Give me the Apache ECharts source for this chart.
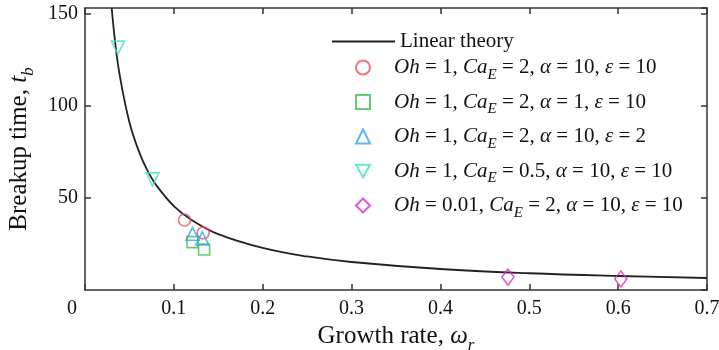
<!DOCTYPE html>
<html>
<head>
<meta charset="utf-8">
<script src="https://cdn.jsdelivr.net/npm/echarts@6/dist/echarts.min.js"></script>
<style>
  html, body { margin: 0; padding: 0; background: #fff; }
  #chart { width: 719px; height: 350px; }
</style>
</head>
<body>
<div id="chart"></div>
<script>
// 读图得到的数据
const theoryPoints = [
  [0.030, 153], [0.035, 130], [0.040, 114], [0.050, 91], [0.060, 76],
  [0.070, 65], [0.080, 57], [0.100, 45.5], [0.120, 38], [0.150, 30.3],
  [0.200, 22.8], [0.250, 18.2], [0.300, 15.2], [0.400, 11.4], [0.500, 9.1],
  [0.600, 7.6], [0.700, 6.5]
]
const circlePts = [[0.112, 38], [0.133, 31]]
const squarePts = [[0.121, 26], [0.134, 22]]
const trianglePts = [[0.121, 30.5], [0.132, 28]]
const downTrianglePts = [[0.037, 131.5], [0.076, 60]]
const diamondPts = [[0.476, 7], [0.603, 6]]

const legendLabels = {
  s1: '{sp|}{i|Oh} = 1, {i|Ca}{sub|E} = 2, {g|α} = 10, {g|ε} = 10',
  s2: '{sp|}{i|Oh} = 1, {i|Ca}{sub|E} = 2, {g|α} = 1, {g|ε} = 10',
  s3: '{sp|}{i|Oh} = 1, {i|Ca}{sub|E} = 2, {g|α} = 10, {g|ε} = 2',
  s4: '{sp|}{i|Oh} = 1, {i|Ca}{sub|E} = 0.5, {g|α} = 10, {g|ε} = 10',
  s5: '{sp|}{i|Oh} = 0.01, {i|Ca}{sub|E} = 2, {g|α} = 10, {g|ε} = 10'
}

const serif = '"Liberation Serif", "DejaVu Serif", serif'
const axisColor = '#333'
const textColor = '#111'

const richText = {
  sp: { width: 19 },
  i: { fontStyle: 'italic', fontFamily: serif, fontSize: 21, color: textColor },
  g: { fontStyle: 'italic', fontFamily: serif, fontSize: 21, color: textColor },
  sub: { fontStyle: 'italic', fontFamily: serif, fontSize: 15, color: textColor, verticalAlign: 'bottom', lineHeight: 30 }
}

const nameRich = {
  t: { fontFamily: serif, fontSize: 25, color: textColor },
  g: { fontFamily: serif, fontSize: 25, fontStyle: 'italic', color: textColor },
  sub: { fontFamily: serif, fontSize: 17, fontStyle: 'italic', color: textColor, verticalAlign: 'bottom', lineHeight: 36 }
}

const chart = echarts.init(document.getElementById('chart'))

const scatter = (name, data, symbol, color, size) => ({
  name: name,
  type: 'scatter',
  data: data,
  symbol: symbol,
  symbolSize: size,
  itemStyle: { color: 'transparent', borderColor: color, borderWidth: 1.6 },
  z: 3
})

const tickStyle = { show: true, inside: true, length: 6, lineStyle: { color: axisColor, width: 1.5 } }
const lineStyle = { show: true, onZero: false, lineStyle: { color: axisColor, width: 1.5 } }

const option = {
  animation: false,
  grid: { left: 85, right: 12, top: 8, bottom: 60, outerBoundsMode: 'none', containLabel: false },
  legend: [
    {
      data: [{ name: 'Linear theory', icon: 'rect' }],
      left: 327, top: 26,
      itemWidth: 63, itemHeight: 2,
      itemStyle: { color: '#222' },
      textStyle: { fontFamily: serif, fontSize: 21, color: textColor }
    },
    {
      data: ['s1', 's2', 's3', 's4', 's5'],
      orient: 'vertical',
      left: 350, top: 52,
      itemWidth: 14, itemHeight: 14,
      itemGap: 9,
      formatter: (name) => legendLabels[name],
      textStyle: { fontFamily: serif, fontSize: 21, color: textColor, rich: richText }
    }
  ],
  xAxis: [
    {
      type: 'value', min: 0, max: 0.7, interval: 0.1,
      name: '{t|Growth rate, }{g|ω}{sub|r}',
      nameLocation: 'middle', nameGap: 19,
      nameTextStyle: { fontFamily: serif, fontSize: 25, color: textColor, rich: nameRich },
      axisLine: lineStyle,
      axisTick: tickStyle,
      axisLabel: {
        fontFamily: serif, fontSize: 20, color: textColor, margin: 9,
        formatter: (v) => (v === 0 ? '{z|0}' : String(v)),
        rich: { z: { fontFamily: serif, fontSize: 20, color: textColor, padding: [0, 26, 0, 0] } }
      },
      splitLine: { show: false }
    },
    {
      type: 'value', min: 0, max: 0.7, interval: 0.1, position: 'top',
      axisLine: lineStyle,
      axisTick: tickStyle,
      axisLabel: { show: false },
      splitLine: { show: false }
    }
  ],
  yAxis: [
    {
      type: 'value', min: 0, max: 153, interval: 50,
      name: '{t|Breakup time, }{g|t}{sub|b}',
      nameLocation: 'middle', nameGap: 48, nameRotate: 90,
      nameTextStyle: { fontFamily: serif, fontSize: 25, color: textColor, rich: nameRich },
      axisLine: lineStyle,
      axisTick: tickStyle,
      axisLabel: { fontFamily: serif, fontSize: 20, color: textColor, margin: 7, showMinLabel: false, showMaxLabel: false,
        formatter: (v) => (v % 50 === 0 ? String(v) : '') },
      splitLine: { show: false }
    },
    {
      type: 'value', min: 0, max: 153, interval: 50, position: 'right',
      axisLine: lineStyle,
      axisTick: tickStyle,
      axisLabel: { show: false },
      splitLine: { show: false }
    }
  ],
  series: [
    {
      name: 'Linear theory',
      type: 'line',
      data: theoryPoints,
      smooth: 0.4,
      symbol: 'none',
      lineStyle: { color: '#222', width: 1.8 },
      itemStyle: { color: '#222' },
      z: 2
    },
    scatter('s1', circlePts, 'circle', '#ef4f5c', 12),
    scatter('s2', squarePts, 'rect', '#3cc24c', 11),
    scatter('s3', trianglePts, 'triangle', '#2fa6ee', 13),
    scatter('s4', downTrianglePts, 'path://M0,0L10,0L5,9Z', '#3de3bb', 13),
    scatter('s5', diamondPts, 'diamond', '#e02cbf', [12, 16])
  ]
}

chart.setOption(option)
</script>
</body>
</html>
